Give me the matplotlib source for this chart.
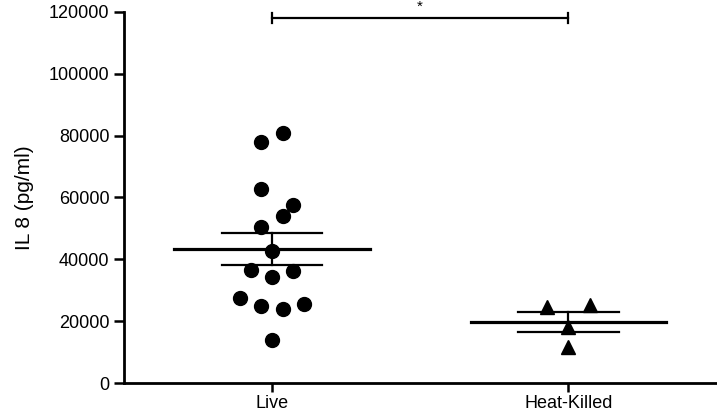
import matplotlib
matplotlib.use("Agg")
import matplotlib.pyplot as plt
import numpy as np

plt.rcParams['font.family'] = ['Liberation Sans', 'DejaVu Sans']

groups = ["Live", "Heat-Killed"]
live = [80950, 78040, 62640, 57570, 54010, 50350, 42690, 36550,
        36220, 34380, 27390, 24900, 24030, 25450, 13900]
heat_killed = [24480, 25130, 18110, 11550]
y_ticks = [0, 20000, 40000, 60000, 80000, 100000, 120000]
bracket_y = 118000
sig_label = "*"

# horizontal scatter of the dots (column layout), in steps
live_steps = [1, -1, -1, 2, 1, -1, 0, -2, 2, 0, -3, -1, 1, 3, 0]
hk_steps = [-2, 2, 0, 0]
step = 0.036

fig = plt.figure(figsize=(7.17, 4.11), dpi=100)
ax = fig.add_axes([0.173, 0.068, 0.826, 0.903])

for i, (vals, steps, marker, ms) in enumerate(
        [(live, live_steps, 'o', 10), (heat_killed, hk_steps, '^', 10)]):
    x0 = i + 1
    vals = np.array(vals, dtype=float)
    xs = x0 + np.array(steps) * step
    ax.plot(xs, vals, linestyle='none', marker=marker, markersize=ms,
            color='black', zorder=3)
    mean = vals.mean()
    sem = vals.std(ddof=1) / np.sqrt(len(vals))
    ax.plot([x0 - 0.33, x0 + 0.33], [mean, mean], color='black', lw=2.3, zorder=4)
    for v in (mean - sem, mean + sem):
        ax.plot([x0 - 0.17, x0 + 0.17], [v, v], color='black', lw=1.6, zorder=4)
    ax.plot([x0, x0], [mean - sem, mean + sem], color='black', lw=1.6, zorder=4)

# significance bracket
ax.plot([1, 2], [bracket_y, bracket_y], color='black', lw=1.6, clip_on=False)
for x in (1, 2):
    ax.plot([x, x], [bracket_y - 1600, bracket_y + 1600], color='black',
            lw=1.6, clip_on=False)
ax.text(1.5, bracket_y + 2300, sig_label, ha='center', va='baseline',
        fontsize=11, clip_on=False)

ax.set_xlim(0.5, 2.5)
ax.set_ylim(0, 120000)
ax.set_xticks([1, 2])
ax.set_xticklabels(groups)
ax.set_yticks(y_ticks)
ax.set_yticklabels([str(t) for t in y_ticks])
ax.set_ylabel("IL 8 (pg/ml)", fontsize=15, labelpad=11)
ax.tick_params(axis='both', labelsize=13, width=1.8, length=7, direction='out')
ax.tick_params(axis='x', length=6.5, pad=2)
ax.spines['top'].set_visible(False)
ax.spines['right'].set_visible(False)
ax.spines['left'].set_linewidth(2)
ax.spines['bottom'].set_linewidth(2)

plt.savefig("out.png", dpi=100)
